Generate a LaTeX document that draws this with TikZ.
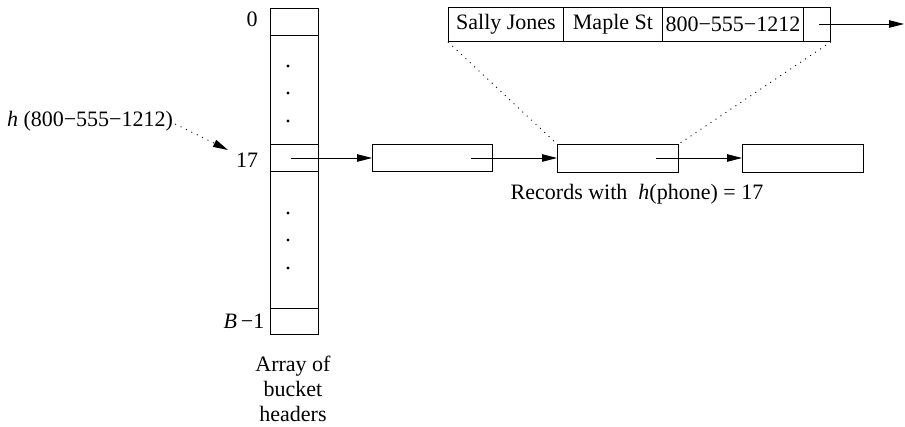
\documentclass[tikz,border=0pt]{standalone}
\usepackage{fontspec}
\setmainfont{Liberation Serif}
\usetikzlibrary{arrows.meta}
\begin{document}
\begin{tikzpicture}[x=1pt,y=-1pt,
  every node/.style={font=\fontsize{22}{25}\selectfont},
  box/.style={draw,line width=0.9pt,minimum height=27pt,inner sep=0pt,anchor=north west},
  lbl/.style={inner sep=0pt},
  conn/.style={line width=0.9pt,-{Triangle[length=15pt,width=7.5pt]}},
  dots/.style={line width=0.9pt,dash pattern=on 1pt off 5pt},
  dotdot/.style={circle,fill,inner sep=0pt,minimum size=3.2pt}]
\useasboundingbox (0,0) rectangle (905,427);
% bucket array
\node[box,minimum width=48pt,minimum height=27pt] (c0) at (270,8) {};
\node[box,minimum width=48pt,minimum height=109pt] (m1) at (270,35) {};
\node[box,minimum width=48pt,minimum height=27pt] (c17) at (270,144) {};
\node[box,minimum width=48pt,minimum height=137pt] (m2) at (270,171) {};
\node[box,minimum width=48pt,minimum height=26pt] (cB) at (270,308) {};
\node[dotdot] (d1) at (288,66) {};
\node[dotdot] (d2) at (288,93) {};
\node[dotdot] (d3) at (288,121) {};
\node[dotdot] (d4) at (288,213) {};
\node[dotdot] (d5) at (288,240) {};
\node[dotdot] (d6) at (288,268) {};
\node[lbl] (l0) at (252,19) {0};
\node[lbl] (l17) at (247,160) {17};
\node[lbl] (lB) at (244,321) {\textit{B}\,−1};
\node[lbl,align=center] (arr) at (293,389) {Array of\\bucket\\headers};
\node[lbl] (hl) at (90,121) {\textit{h} (800−555−1212)};
\coordinate (htip) at (228,150);
\draw[dots,-{Triangle[length=15pt,width=7.5pt]}] (hl.east) ++(2,3) -- (htip);
% chain
\node[box,minimum width=120pt] (b1) at (372,144) {};
\node[box,minimum width=121pt,minimum height=28pt] (b2) at (557,144) {};
\node[box,minimum width=121pt,minimum height=28pt] (b3) at (742,144) {};
\coordinate (s0) at (291,158);
\coordinate (s1) at (471,158);
\coordinate (s2) at (656,158);
\draw[conn] (s0) -- (s0 -| b1.west);
\draw[conn] (s1) -- (s1 -| b2.west);
\draw[conn] (s2) -- (s2 -| b3.west);
\node[lbl] (rec) at (637,194) {Records with \ \textit{h}(phone) = 17};
% expanded record
\node[box,minimum width=115pt,minimum height=34pt] (r1) at (448,7) {};
\node[box,minimum width=99pt,minimum height=34pt] (r2) at (563,7) {};
\node[box,minimum width=141pt,minimum height=34pt] (r3) at (662,7) {};
\node[box,minimum width=27pt,minimum height=34pt] (r4) at (803,7) {};
\node[lbl] at (r1.center) {Sally Jones};
\node[lbl] at (r2.center) {Maple St};
\node[lbl] at (r3.center) {800−555−1212};
\coordinate (rs) at (819,24);
\coordinate (re) at (904,24);
\draw[conn] (rs) -- (re);
\draw[dots] (r1.south west) -- (b2.north west);
\draw[dots] (r4.south east) -- (b2.north east);
\end{tikzpicture}
\end{document}
